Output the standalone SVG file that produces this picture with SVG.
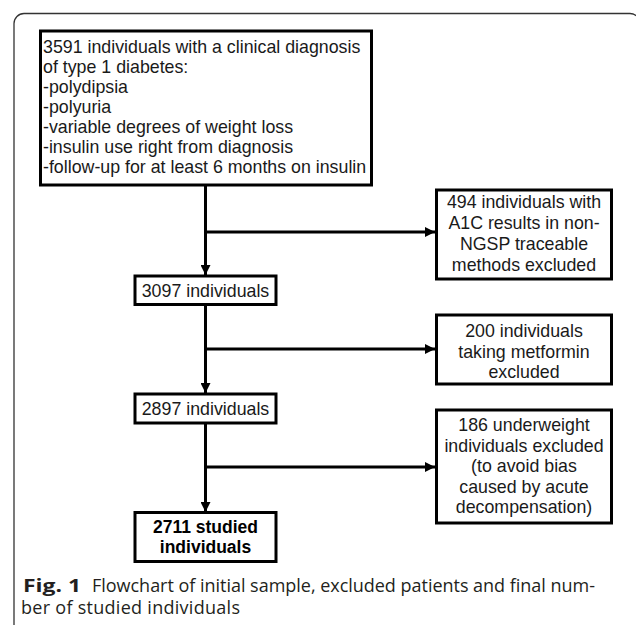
<svg xmlns="http://www.w3.org/2000/svg" width="636" height="625" viewBox="0 0 636 625">
  <defs>
    <style>
      .box { fill: #ffffff; stroke: #000000; stroke-width: 3; }
      .t { font-family: "Liberation Sans", Arial, sans-serif; font-size: 17.8px; fill: #1a1a1a; }
      .c { text-anchor: middle; }
      .b { font-weight: bold; font-size: 17.5px; fill: #000000; }
      .conn { stroke: #000000; stroke-width: 3; fill: none; }
      .cap { font-family: "Open Sans", "Liberation Sans", sans-serif; font-size: 18px; fill: #231f20; }
    </style>
    <marker id="arr" markerUnits="userSpaceOnUse" markerWidth="10" markerHeight="10" refX="10" refY="5" orient="auto">
      <path d="M0,0 L10,5 L0,10 Z" fill="#000000"/>
    </marker>
  </defs>
  <rect width="636" height="625" fill="#ffffff"/>
  <path d="M14,625 V23.5 A10,10 0 0 1 24,13.5 H630 A10,10 0 0 1 640,23.5 V625" fill="none" stroke="#333333" stroke-width="1.3"/>

  <g id="connectors">
    <line class="conn" x1="205.5" y1="185" x2="205.5" y2="275" marker-end="url(#arr)"/>
    <line class="conn" x1="205.5" y1="232" x2="435" y2="232" marker-end="url(#arr)"/>
    <line class="conn" x1="205.5" y1="305" x2="205.5" y2="393" marker-end="url(#arr)"/>
    <line class="conn" x1="205.5" y1="349" x2="435" y2="349" marker-end="url(#arr)"/>
    <line class="conn" x1="205.5" y1="423" x2="205.5" y2="512" marker-end="url(#arr)"/>
    <line class="conn" x1="205.5" y1="467" x2="435" y2="467" marker-end="url(#arr)"/>
  </g>

  <g id="n_initial">
    <rect class="box" x="40.5" y="31" width="331" height="154"/>
    <text class="t" x="43" y="52.5">3591 individuals with a clinical diagnosis</text>
    <text class="t" x="43" y="72.6">of type 1 diabetes:</text>
    <text class="t" x="43" y="92.7">-polydipsia</text>
    <text class="t" x="43" y="112.8">-polyuria</text>
    <text class="t" x="43" y="132.9">-variable degrees of weight loss</text>
    <text class="t" x="43" y="153">-insulin use right from diagnosis</text>
    <text class="t" x="43" y="173.1">-follow-up for at least 6 months on insulin</text>
  </g>

  <g id="n_excl1">
    <rect class="box" x="436.5" y="190" width="175" height="89"/>
    <text class="t c" x="524" y="208">494 individuals with</text>
    <text class="t c" x="524" y="229">A1C results in non-</text>
    <text class="t c" x="524" y="250">NGSP traceable</text>
    <text class="t c" x="524" y="271">methods excluded</text>
  </g>

  <g id="n_3097">
    <rect class="box" x="135" y="276" width="141" height="28.5"/>
    <text class="t c" x="205.5" y="296.5">3097 individuals</text>
  </g>

  <g id="n_excl2">
    <rect class="box" x="436.5" y="315" width="175" height="69"/>
    <text class="t c" x="524" y="337">200 individuals</text>
    <text class="t c" x="524" y="357.5">taking metformin</text>
    <text class="t c" x="524" y="378">excluded</text>
  </g>

  <g id="n_2897">
    <rect class="box" x="135" y="394" width="141" height="29"/>
    <text class="t c" x="205.5" y="414.5">2897 individuals</text>
  </g>

  <g id="n_excl3">
    <rect class="box" x="436.5" y="410" width="175" height="113"/>
    <text class="t c" x="524" y="431">186 underweight</text>
    <text class="t c" x="524" y="451.5">individuals excluded</text>
    <text class="t c" x="524" y="472">(to avoid bias</text>
    <text class="t c" x="524" y="492.5">caused by acute</text>
    <text class="t c" x="524" y="513">decompensation)</text>
  </g>

  <g id="n_final">
    <rect class="box" x="135" y="512.5" width="141" height="49"/>
    <text class="t c b" x="205.5" y="533">2711 studied</text>
    <text class="t c b" x="205.5" y="553">individuals</text>
  </g>

  <g id="caption">
    <text class="cap" x="23" y="592" font-weight="bold" font-size="20px" textLength="58" lengthAdjust="spacingAndGlyphs">Fig. 1</text>
    <text class="cap" x="92" y="592" textLength="503" lengthAdjust="spacing">Flowchart of initial sample, excluded patients and final num-</text>
    <text class="cap" x="21" y="614" textLength="219" lengthAdjust="spacing">ber of studied individuals</text>
  </g>
</svg>
